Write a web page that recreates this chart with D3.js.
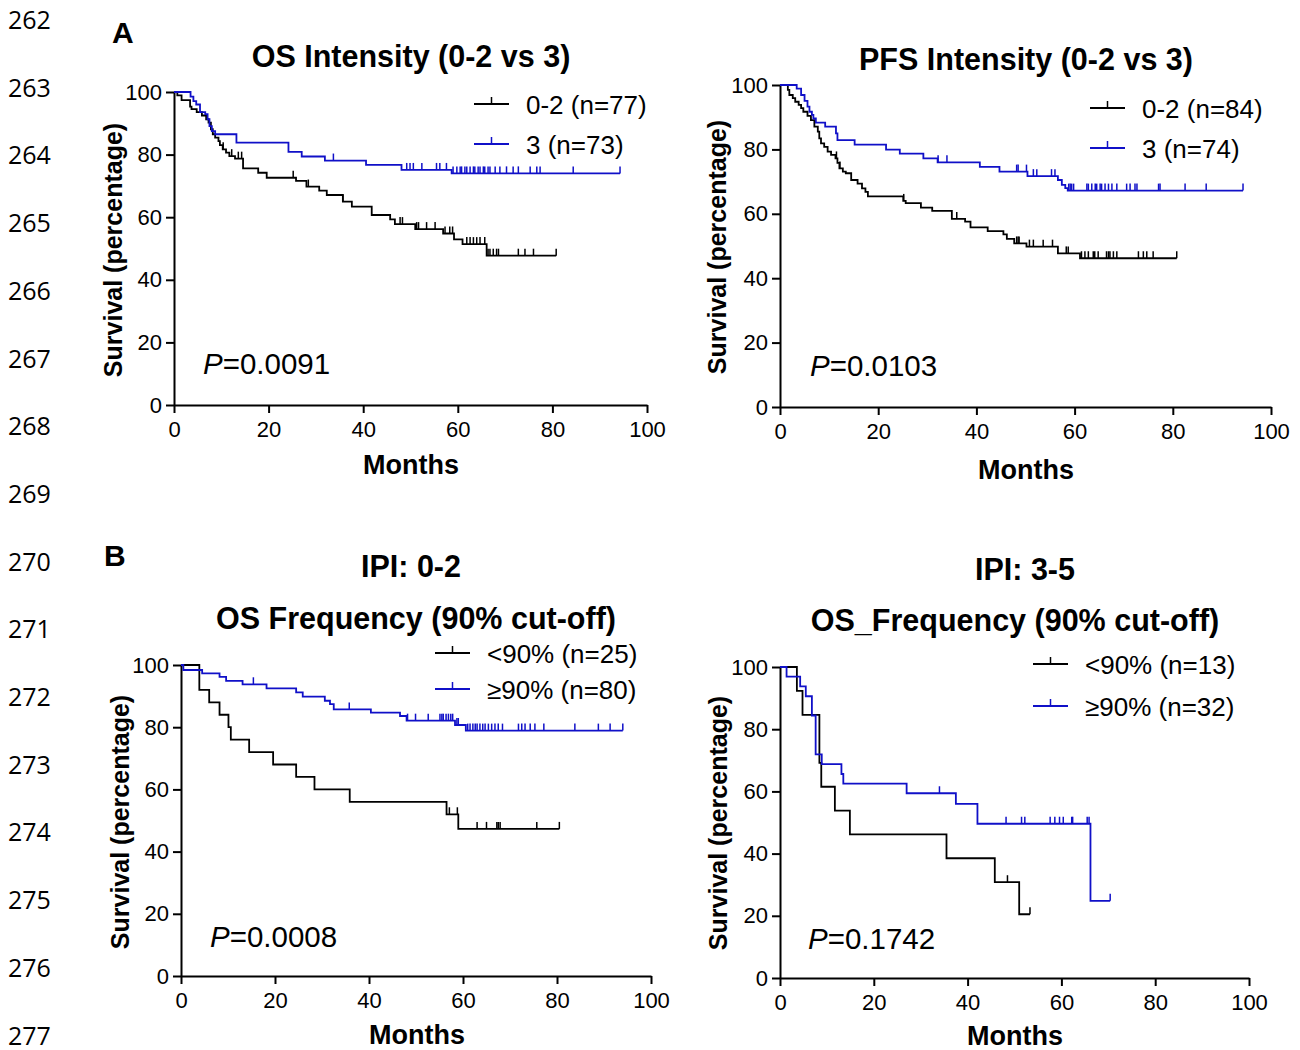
<!DOCTYPE html>
<html>
<head>
<meta charset="utf-8">
<script src="https://cdn.jsdelivr.net/npm/d3@7"></script>
<style>
  body { margin: 0; background: #fff; }
  svg text { font-family: "Liberation Sans", Arial, sans-serif; fill: #000; }
</style>
</head>
<body>
<svg id="chart" width="1300" height="1050"></svg>
<script>
// ---- data: [month, survival %] step starts, censor months ----
var xTicks = [0, 20, 40, 60, 80, 100],
    yTicks = [0, 20, 40, 60, 80, 100];

var lineNumbers = ["262", "263", "264", "265", "266", "267", "268", "269",
                   "270", "271", "272", "273", "274", "275", "276", "277"];

// OS intensity
var osIntLowSteps = [[0,100],[0.7,98.9],[1.6,97.4],[3.4,95.3],[3.7,94.5],[4.8,93.6],[5.9,92.5],[6.8,91.3],
  [7.3,90.2],[7.8,88.1],[8.2,86.5],[8.7,85.4],[9.4,84.3],[9.7,83.0],[10.3,81.7],[11.0,80.6],[11.7,79.5],
  [12.9,78.7],[14.6,75.6],[17.8,74.2],[19.6,72.6],[25.8,71.6],[28.0,69.8],[30.7,68.5],[32.3,67.1],
  [35.7,65.0],[37.6,63.4],[41.8,60.7],[45.7,59.3],[46.7,57.8],[51.0,56.2],[56.9,54.8],[59.2,52.9],
  [61.0,51.4],[66.1,47.7]];
var osIntLowCensor = [10.4,12.2,13.6,14.3,25.2,28.4,35.7,47.8,48.3,51.3,51.7,53.4,55.2,57.3,58.3,58.9,
  61.9,62.6,63.3,64.0,64.7,65.7,66.4,66.8,67.5,68.2,68.6,72.8,74.2,76.0,80.8];
var osIntHighSteps = [[0,100],[3.5,98.5],[4.1,97.1],[4.7,96.0],[5.5,93.6],[6.6,92.9],[7.1,91.3],[7.5,89.1],
  [8.0,87.5],[8.7,86.5],[13.2,83.8],[24.2,80.9],[27.0,79.4],[31.9,78.1],[40.6,76.7],[48.1,75.1],[58.7,74.0]];
var osIntHighCensor = [33.7,49.2,49.9,50.6,52.4,55.5,56.2,57.6,59.0,59.8,60.5,60.8,61.5,61.9,62.6,63.3,
  63.6,64.3,64.7,65.4,65.7,66.4,66.8,67.9,68.9,70.3,71.7,72.8,75.3,76.7,77.4,84.4,94.3];

// PFS intensity
var pfsIntLowSteps = [[0,100],[1.6,98.5],[1.9,96.9],[2.6,95.9],[3.1,94.8],[3.8,93.8],[4.3,92.8],[4.75,91.7],
  [5.6,90.4],[6.3,89.1],[7.0,87.1],[7.7,85.5],[8.0,83.4],[8.35,81.9],[9.0,80.8],[9.7,79.3],[10.4,78.3],
  [11.3,77.2],[11.7,75.8],[12.1,74.1],[12.8,73.1],[13.4,72.6],[14.5,70.5],[15.8,69.4],[16.7,67.9],
  [17.4,66.8],[17.9,65.4],[25.1,64.0],[25.6,63.3],[28.7,61.9],[31.0,60.9],[35.0,58.4],[37.7,57.6],
  [38.8,55.8],[42.3,54.6],[45.5,53.6],[46.2,52.2],[47.7,50.8],[50.2,49.8],[56.6,47.7],[61.1,46.2]];
var pfsIntLowCensor = [11.5,12.2,25.2,36.0,48.2,48.5,48.7,50.8,51.6,53.6,55.5,58.3,58.7,61.4,62.1,62.8,
  63.8,64.1,64.8,66.5,66.9,67.2,67.9,68.6,73.0,74.0,74.7,76.0,80.8];
var pfsIntHighSteps = [[0,100],[3.4,98.9],[4.3,96.9],[5.0,95.1],[5.6,93.3],[6.0,91.7],[6.5,90.7],[6.8,89.6],
  [7.3,88.3],[9.2,87.1],[11.4,85.0],[11.7,82.9],[15.2,81.5],[21.6,79.9],[24.4,78.7],[29.2,77.2],[32.1,76.0],
  [40.7,74.6],[44.7,73.1],[50.4,71.7],[56.6,70.5],[57.4,69.0],[58.1,68.0],[58.6,67.2]];
var pfsIntHighCensor = [32.2,34.0,48.2,48.5,50.2,51.6,52.3,55.3,56.0,58.8,59.1,59.4,59.8,62.5,62.8,63.5,
  64.2,64.5,65.2,65.5,66.2,66.9,67.6,68.6,70.6,71.3,72.3,72.7,77.1,77.4,82.5,86.8,94.3];

// OS frequency, IPI 0-2
var ipiLowLtSteps = [[0,100],[3.9,92],[6.0,88],[8.2,84],[10.1,80],[10.6,76],[14.5,72],[19.6,68],[24.5,64],
  [28.4,60],[35.9,56],[56.5,52],[59.0,47.3]];
var ipiLowLtCensor = [57.1,58.8,63.0,65.0,67.2,67.5,67.9,75.7,80.5];
var ipiLowGeSteps = [[0,100],[0.5,98.4],[4.5,97.3],[8.2,96.2],[9.6,94.9],[13.1,93.8],[18.2,92.5],[24.5,91.2],
  [25.9,89.8],[30.6,88.5],[31.7,87.4],[32.5,85.7],[40.4,84.7],[46.6,83.6],[48.0,82.1],[58.3,80.7],[60.6,78.9]];
var ipiLowGeCensor = [15.4,35.8,48.2,49.9,52.6,55.1,55.5,55.8,56.4,56.9,57.4,57.8,58.7,59.0,61.0,61.5,62.1,
  62.6,63.0,63.6,64.2,64.7,65.4,66.1,66.8,67.5,68.4,71.8,72.5,73.2,74.3,75.3,77.2,83.8,88.8,91.3,94.0];

// OS frequency, IPI 3-5
var ipiHighLtSteps = [[0,100],[3.6,92.3],[4.8,84.6],[8.4,69.2],[8.8,61.5],[11.7,53.8],[14.9,46.2],
  [35.5,38.5],[45.8,30.8],[51.0,20.5]];
var ipiHighLtCensor = [48.5,53.3];
var ipiHighGeSteps = [[0,100],[1.4,96.9],[4.3,93.75],[5.5,90.6],[6.8,84.4],[7.6,71.9],[8.9,68.75],
  [13.1,65.6],[13.5,62.5],[27.0,59.4],[37.5,56.0],[42.1,49.6],[66.2,24.8]];
var ipiHighGeCensor = [34.0,48.2,51.5,52.2,57.6,58.6,59.6,60.4,62.2,62.4,65.5,65.9,70.4];

// ---- drawing ----
var svg = d3.select("#chart");
var BLUE = "#1010c8";

svg.selectAll("text.ln").data(lineNumbers).enter().append("text")
    .attr("class", "ln")
    .attr("x", 8)
    .attr("y", function(d, i) { return 29 + i * 67.7; })
    .style("font-family", "'Open Sans', sans-serif")
    .style("font-size", "25px")
    .text(function(d) { return d; });

var panels = [
  { x0: 174, x1: 647, y0: 405, y1: 92, titles: [["OS Intensity (0-2 vs 3)", 411, 67]],
    ylab: [113, 250], xlab: [411, 474], p: ["0.0091", 203, 374],
    legend: [474, 104, 40], names: ["0-2 (n=77)", "3 (n=73)"],
    series: [[osIntLowSteps, osIntLowCensor], [osIntHighSteps, osIntHighCensor]] },
  { x0: 780, x1: 1271, y0: 407, y1: 85, titles: [["PFS Intensity (0-2 vs 3)", 1026, 70]],
    ylab: [717, 247], xlab: [1026, 479], p: ["0.0103", 810, 376],
    legend: [1090, 108, 40], names: ["0-2 (n=84)", "3 (n=74)"],
    series: [[pfsIntLowSteps, pfsIntLowCensor], [pfsIntHighSteps, pfsIntHighCensor]] },
  { x0: 181, x1: 651, y0: 976, y1: 665,
    titles: [["IPI: 0-2", 411, 577], ["OS Frequency (90% cut-off)", 416, 629]],
    ylab: [120, 822], xlab: [417, 1044], p: ["0.0008", 210, 947],
    legend: [435, 653, 36], names: ["<90% (n=25)", "\u226590% (n=80)"],
    series: [[ipiLowLtSteps, ipiLowLtCensor], [ipiLowGeSteps, ipiLowGeCensor]] },
  { x0: 780, x1: 1249, y0: 978, y1: 667,
    titles: [["IPI: 3-5", 1025, 580], ["OS_Frequency (90% cut-off)", 1015, 631]],
    ylab: [718, 823], xlab: [1015, 1045], p: ["0.1742", 808, 949],
    legend: [1033, 664, 42], names: ["<90% (n=13)", "\u226590% (n=32)"],
    series: [[ipiHighLtSteps, ipiHighLtCensor], [ipiHighGeSteps, ipiHighGeCensor]] }
];

function levelAt(steps, t) {
  var v = steps[0][1];
  steps.forEach(function(s) { if (s[0] <= t) v = s[1]; });
  return v;
}

function drawPanel(p) {
  var x = d3.scaleLinear().domain([0, 100]).range([p.x0, p.x1]),
      y = d3.scaleLinear().domain([0, 100]).range([p.y0, p.y1]);
  var g = svg.append("g");

  var xa = g.append("g").attr("transform", "translate(0," + p.y0 + ")")
      .call(d3.axisBottom(x).tickValues(xTicks).tickSize(8).tickSizeOuter(0).tickPadding(8));
  var ya = g.append("g").attr("transform", "translate(" + p.x0 + ",0)")
      .call(d3.axisLeft(y).tickValues(yTicks).tickSize(8).tickSizeOuter(0).tickPadding(4));
  [xa, ya].forEach(function(a) {
    a.select(".domain").attr("stroke", "#000").attr("stroke-width", 2);
    a.selectAll(".tick line").attr("stroke", "#000").attr("stroke-width", 2);
    a.selectAll(".tick text").style("font-size", "22px").attr("fill", "#000")
      .style("font-family", "'Liberation Sans', Arial, sans-serif");
  });

  var line = d3.line()
      .x(function(d) { return x(d[0]); })
      .y(function(d) { return y(d[1]); })
      .curve(d3.curveStepAfter);

  p.series.forEach(function(s, i) {
    var steps = s[0], cens = s[1], col = i ? BLUE : "#000";
    var end = d3.max(cens);
    var pts = steps.concat([[end, steps[steps.length - 1][1]]]);
    g.append("path").datum(pts).attr("d", line)
      .attr("fill", "none").attr("stroke", col).attr("stroke-width", 1.8);
    g.selectAll(null).data(cens).enter().append("line")
      .attr("x1", function(d) { return x(d); })
      .attr("x2", function(d) { return x(d); })
      .attr("y1", function(d) { return y(levelAt(steps, d)); })
      .attr("y2", function(d) { return y(levelAt(steps, d)) - 7; })
      .attr("stroke", col).attr("stroke-width", 1.5);

    // legend entry
    var lx = p.legend[0], ly = p.legend[1] + i * p.legend[2];
    g.append("line").attr("x1", lx).attr("x2", lx + 35).attr("y1", ly).attr("y2", ly)
      .attr("stroke", col).attr("stroke-width", 1.8);
    g.append("line").attr("x1", lx + 17.5).attr("x2", lx + 17.5).attr("y1", ly).attr("y2", ly - 7)
      .attr("stroke", col).attr("stroke-width", 1.5);
    g.append("text").attr("x", lx + 52).attr("y", ly + 10)
      .style("font-size", "26px").text(p.names[i]);
  });

  p.titles.forEach(function(t) {
    g.append("text").attr("x", t[1]).attr("y", t[2]).attr("text-anchor", "middle")
      .style("font-size", "30.5px").style("font-weight", "bold").text(t[0]);
  });
  g.append("text").attr("x", p.xlab[0]).attr("y", p.xlab[1]).attr("text-anchor", "middle")
    .style("font-size", "27px").style("font-weight", "bold").text("Months");
  g.append("text")
    .attr("transform", "translate(" + p.ylab[0] + "," + p.ylab[1] + ") rotate(-90)")
    .attr("text-anchor", "middle").attr("dy", "0.35em")
    .style("font-size", "25px").style("font-weight", "bold").text("Survival (percentage)");

  var pt = g.append("text").attr("x", p.p[1]).attr("y", p.p[2]).style("font-size", "29.5px");
  pt.append("tspan").style("font-style", "italic").text("P");
  pt.append("tspan").text("=" + p.p[0]);
}

panels.forEach(drawPanel);

svg.append("text").attr("x", 112).attr("y", 43).style("font-size", "30px")
  .style("font-weight", "bold").text("A");
svg.append("text").attr("x", 104).attr("y", 566).style("font-size", "30px")
  .style("font-weight", "bold").text("B");
</script>
</body>
</html>
